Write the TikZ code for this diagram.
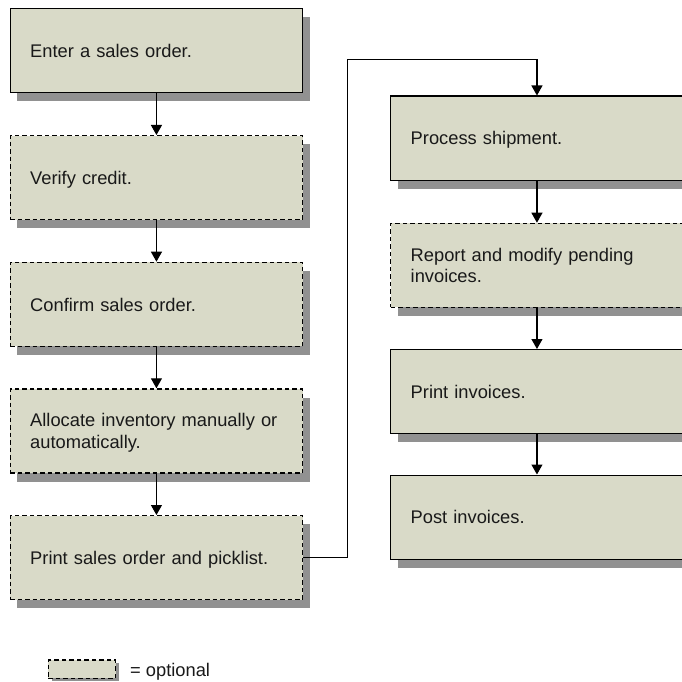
\documentclass[tikz,border=0pt]{standalone}
\usepackage{fontspec}
\setmainfont{Liberation Sans}
\usetikzlibrary{arrows.meta,shadows}
\definecolor{boxfill}{RGB}{217,218,200}
\definecolor{shadowgray}{RGB}{145,145,145}
% strut giving every text line the same height and depth
\newcommand\lnstrut{\rule[-4.2pt]{0pt}{21.7pt}}
\begin{document}
\begin{tikzpicture}[x=1pt,y=-1pt,
  txt/.style={font=\fontsize{18.3}{21.7}\selectfont, text=black!90},
  stepbox/.style={txt, draw=black, line width=1.4pt, fill=boxfill, rectangle,
    anchor=north west, minimum width=292.5pt, minimum height=84pt,
    inner xsep=20pt, inner ysep=0pt, text width=252.5pt, align=left,
    drop shadow={shadow xshift=7pt, shadow yshift=-8.5pt, opacity=1,
      fill=shadowgray, draw=none}},
  optbox/.style={stepbox, dash pattern=on 4.5pt off 3pt},
  keybox/.style={draw=black, line width=1.4pt, dash pattern=on 4.5pt off 3pt,
    fill=boxfill, rectangle, anchor=north west, minimum width=67.3pt,
    minimum height=18.4pt, inner sep=0pt,
    drop shadow={shadow xshift=3.3pt, shadow yshift=-3pt, opacity=1,
      fill=shadowgray, draw=none}},
  conn/.style={draw=black, line width=1.1pt, -{Triangle[width=11pt,length=10pt]}},
]
\useasboundingbox (0,0) rectangle (682,682);

% left column
\node[stepbox] (n1) at (9.5,8)     {\lnstrut Enter a sales order.};
\node[optbox]  (n2) at (9.5,135)   {\lnstrut Verify credit.};
\node[optbox]  (n3) at (9.5,261.7) {\lnstrut Confirm sales order.};
\node[optbox]  (n4) at (9.5,388.3) {\lnstrut Allocate inventory manually or\\\lnstrut automatically.};
\node[optbox]  (n5) at (9.5,515)   {\lnstrut Print sales order and picklist.};

% right column
\node[stepbox] (n6) at (390,95.5)  {\lnstrut Process shipment.};
\node[optbox]  (n7) at (390,222.7) {\lnstrut Report and modify pending\\\lnstrut invoices.};
\node[stepbox] (n8) at (390,349)   {\lnstrut Print invoices.};
\node[stepbox] (n9) at (390,474.5) {\lnstrut Post invoices.};

% connectors
\draw[conn] (n1.south) -- (n2.north);
\draw[conn] (n2.south) -- (n3.north);
\draw[conn] (n3.south) -- (n4.north);
\draw[conn] (n4.south) -- (n5.north);
\coordinate (route) at (347.5,59.3);
\draw[conn] (n5.east) -| (route) -| (n6.north);
\draw[conn] (n6.south) -- (n7.north);
\draw[conn] (n7.south) -- (n8.north);
\draw[conn] (n8.south) -- (n9.north);

% legend
\node[keybox] (key) at (47.7,659.3) {};
\node[txt, anchor=base west, inner sep=0pt] (keytext) at (130,676.5) {= optional};
\end{tikzpicture}
\end{document}
